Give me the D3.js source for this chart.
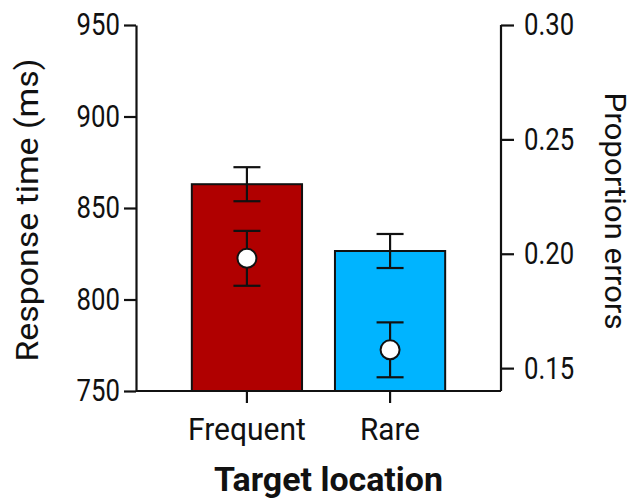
<!DOCTYPE html>
<html lang="en">
<head>
<meta charset="UTF-8">
<title>Response time and errors by target location</title>
<script src="https://d3js.org/d3.v7.min.js"></script>
<style>
  body { margin: 0; background: #fff; }
  text { font-family: Roboto, "Noto Sans", sans-serif; fill: #111; }
</style>
</head>
<body>
<div id="chart"></div>
<script>
// data
const categories = ["Frequent", "Rare"];
const rtMean = [863, 826.5];
const rtErr = [9.3, 9.3];
const errMean = [0.198, 0.158];
const errErr = [0.012, 0.012];
const barColors = ["#b00000", "#00b4ff"];
const leftTicks = [750, 800, 850, 900, 950];
const rightTicks = [0.15, 0.20, 0.25, 0.30];

const width = 644, height = 501;
const margin = {top: 25, right: 143, bottom: 110, left: 136};

const svg = d3.select("#chart").append("svg")
    .attr("width", width)
    .attr("height", height);

const x = d3.scaleBand()
    .domain(categories)
    .range([margin.left, width - margin.right])
    .paddingInner(0.23)
    .paddingOuter(0.39);

const yL = d3.scaleLinear().domain([750, 950]).range([height - margin.bottom, margin.top]);
const yR = d3.scaleLinear().domain([0.14, 0.30]).range([height - margin.bottom, margin.top]);

// the original uses a narrow face, so squeeze Roboto to the same width
function narrow(sel, k) {
  sel.each(function() {
    const w = this.getComputedTextLength();
    d3.select(this).attr("textLength", w * k).attr("lengthAdjust", "spacingAndGlyphs");
  });
}
function fitTo(sel, w) {
  sel.attr("textLength", w).attr("lengthAdjust", "spacingAndGlyphs");
}

// bars
svg.selectAll("rect.bar")
  .data(categories)
  .join("rect")
    .attr("class", "bar")
    .attr("x", d => x(d))
    .attr("width", x.bandwidth())
    .attr("y", (d, i) => yL(rtMean[i]))
    .attr("height", (d, i) => yL(750) - yL(rtMean[i]))
    .attr("fill", (d, i) => barColors[i])
    .attr("stroke", "#111")
    .attr("stroke-width", 2);

function errorBars(cls, scale, mean, err) {
  const g = svg.append("g").attr("class", cls)
      .attr("stroke", "#111").attr("stroke-width", 2.2);
  categories.forEach((c, i) => {
    const cx = x(c) + x.bandwidth() / 2;
    const hi = scale(mean[i] + err[i]), lo = scale(mean[i] - err[i]);
    g.append("line").attr("x1", cx).attr("x2", cx).attr("y1", hi).attr("y2", lo);
    g.append("line").attr("x1", cx - 13.5).attr("x2", cx + 13.5).attr("y1", hi).attr("y2", hi);
    g.append("line").attr("x1", cx - 13.5).attr("x2", cx + 13.5).attr("y1", lo).attr("y2", lo);
  });
}

errorBars("rt-err", yL, rtMean, rtErr);
errorBars("pe-err", yR, errMean, errErr);

svg.selectAll("circle.pe")
  .data(categories)
  .join("circle")
    .attr("class", "pe")
    .attr("cx", d => x(d) + x.bandwidth() / 2)
    .attr("cy", (d, i) => yR(errMean[i]))
    .attr("r", 9.5)
    .attr("fill", "#fff")
    .attr("stroke", "#111")
    .attr("stroke-width", 2);

// axes
const axL = svg.append("g")
    .attr("transform", `translate(${margin.left},0)`)
    .call(d3.axisLeft(yL).tickValues(leftTicks).tickSize(12).tickPadding(4).tickSizeOuter(0));

const axR = svg.append("g")
    .attr("transform", `translate(${width - margin.right},0)`)
    .call(d3.axisRight(yR).tickValues(rightTicks).tickFormat(d3.format(".2f"))
      .tickSize(13).tickPadding(10).tickSizeOuter(0));

const axB = svg.append("g")
    .attr("transform", `translate(0,${height - margin.bottom})`)
    .call(d3.axisBottom(x).tickSize(12).tickPadding(15).tickSizeOuter(0));

[axL, axR, axB].forEach(a => {
  a.select(".domain").attr("stroke", "#111").attr("stroke-width", 2.2);
  a.selectAll(".tick line").attr("stroke", "#111").attr("stroke-width", 2.2);
  a.selectAll(".tick text").attr("font-size", 31).attr("fill", "#111")
    .attr("font-family", "Roboto");
});
axR.select(".domain").attr("d", `M0,${yR.range()[1]}V${yR.range()[0]}`);
axB.select(".domain").attr("d", `M${margin.left},0H${width - margin.right}`);

narrow(axL.selectAll(".tick text"), 0.83);
narrow(axR.selectAll(".tick text"), 0.83);
axB.selectAll(".tick text").attr("font-size", 31.5)
    .each(function(d) { fitTo(d3.select(this), d === "Frequent" ? 118 : 60); });

// axis titles
svg.append("text")
    .attr("transform", `translate(38,210) rotate(-90)`)
    .attr("text-anchor", "middle")
    .attr("font-size", 30.5)
    .text("Response time (ms)")
    .call(fitTo, 303);

svg.append("text")
    .attr("transform", `translate(605,211) rotate(90)`)
    .attr("text-anchor", "middle")
    .attr("font-size", 29)
    .text("Proportion errors")
    .call(fitTo, 237);

svg.append("text")
    .attr("x", 328.5)
    .attr("y", 491)
    .attr("text-anchor", "middle")
    .attr("font-size", 34)
    .attr("font-weight", "bold")
    .text("Target location")
    .call(fitTo, 229);
</script>
</body>
</html>
